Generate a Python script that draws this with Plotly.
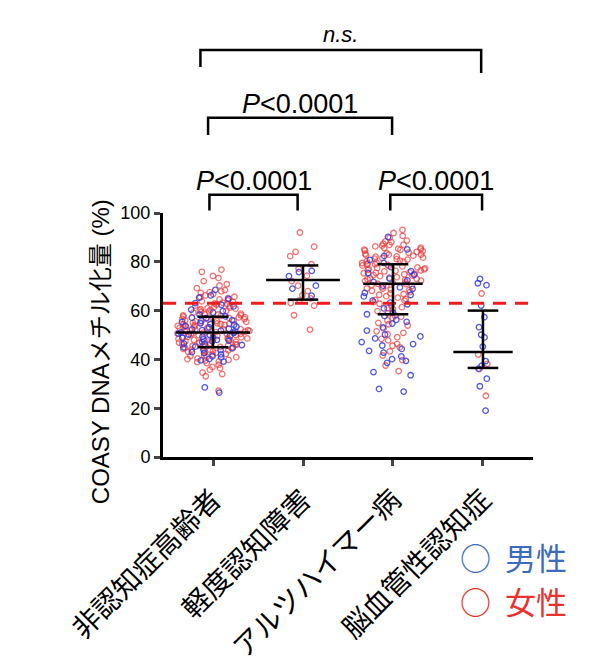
import plotly.graph_objects as go

# categories (x axis)
categories = ["非認知症高齢者", "軽度認知障害", "アルツハイマー病", "脳血管性認知症"]

# COASY DNA methylation (%) per group, male / female
male_vals = [
    [68.5, 66.2, 64.8, 63.1, 61.7, 60.4, 59.2, 58.3, 57.6, 56.9, 56.1, 55.4, 54.8, 54.2,
     53.7, 53.1, 52.6, 52.0, 51.5, 51.1, 50.6, 50.2, 49.7, 49.3, 48.8, 48.2, 47.7, 47.1,
     46.5, 45.9, 45.2, 44.6, 43.8, 43.0, 42.1, 41.3, 40.2, 39.1, 28.5, 26.4,
     65.3, 62.4, 59.8, 57.1, 55.8, 54.5, 53.4, 52.3, 51.8, 50.9, 50.0, 49.0, 48.0, 47.4,
     46.2, 44.9, 44.1, 42.6, 40.8, 39.6],
    [76.3, 75.8, 74.1, 70.2, 69.0, 66.1],
    [90.2, 85.1, 82.4, 79.6, 77.8, 76.2, 74.7, 73.1, 71.8, 70.2, 68.9, 67.3, 65.8, 64.1,
     62.6, 60.9, 59.3, 57.8, 56.2, 54.7, 53.1, 51.8, 50.2, 48.6, 47.1, 45.7, 44.3, 42.8,
     41.2, 40.1, 38.6, 34.8, 33.5, 27.9, 26.8,
     80.8, 75.4, 72.4, 69.5, 66.4, 63.3, 58.5, 55.4, 49.4, 46.3, 43.5, 39.4],
    [73.0, 71.2, 70.4, 62.1, 57.3, 53.2, 50.1, 49.0, 45.2, 39.3, 37.4, 36.2, 32.1, 29.0, 19.0],
]
female_vals = [
    [76.8, 75.9, 74.2, 72.1, 70.3, 69.2, 68.4, 67.9, 67.3, 66.8, 66.2, 65.7, 65.1, 64.6,
     64.2, 63.8, 63.3, 62.9, 62.5, 62.1, 61.8, 61.4, 61.0, 60.6, 60.3, 59.9, 59.5, 59.2,
     58.8, 58.5, 58.1, 57.8, 57.5, 57.2, 56.9, 56.6, 56.3, 56.0, 55.7, 55.4, 55.1, 54.8,
     54.5, 54.3, 54.0, 53.7, 53.5, 53.2, 52.9, 52.7, 52.4, 52.2, 51.9, 51.7, 51.4, 51.2,
     50.9, 50.7, 50.4, 50.2, 49.9, 49.7, 49.4, 49.2, 48.9, 48.6, 48.4, 48.1, 47.8, 47.5,
     47.2, 46.9, 46.6, 46.3, 46.0, 45.7, 45.4, 45.0, 44.7, 44.3, 43.9, 43.5, 43.1, 42.7,
     42.3, 41.9, 41.4, 40.9, 40.4, 39.8, 39.2, 38.5, 37.8, 36.9, 35.8, 34.6, 33.1, 27.2,
     58.4, 55.6, 53.0, 50.5, 48.0, 45.5, 60.8, 47.0, 52.0, 56.5, 44.0, 41.0,
     62.7, 61.2, 59.7, 58.0, 57.0, 55.9, 55.0, 54.1, 53.3, 52.5, 51.6, 50.8, 50.0, 49.1,
     48.3, 47.4, 46.7, 45.8, 45.1, 44.5, 43.7, 42.9, 41.6, 40.1, 38.9, 36.4, 34.0, 63.6,
     60.1, 57.3, 54.6, 51.0, 48.7, 46.2, 43.3, 39.5, 65.5, 67.6, 70.8, 73.4],
    [92.0, 86.2, 84.1, 82.3, 79.0, 77.2, 74.3, 72.1, 70.2, 68.0, 66.3, 65.0, 64.2, 63.1,
     62.0, 58.1, 52.2],
    [93.1, 91.8, 90.6, 89.9, 88.7, 88.1, 87.4, 86.9, 86.3, 85.8, 85.4, 85.0, 84.6, 84.1,
     83.7, 83.3, 82.9, 82.5, 82.1, 81.7, 81.3, 80.9, 80.5, 80.1, 79.7, 79.3, 78.9, 78.5,
     78.1, 77.7, 77.3, 76.9, 76.5, 76.1, 75.7, 75.3, 74.9, 74.5, 74.1, 73.7, 73.3, 72.9,
     72.5, 72.1, 71.7, 71.3, 70.9, 70.5, 70.1, 69.6, 69.1, 68.6, 68.1, 67.6, 67.1, 66.5,
     65.9, 65.3, 64.7, 64.1, 63.5, 62.8, 62.1, 61.4, 60.6, 59.8, 58.9, 58.0, 57.0, 56.0,
     55.0, 53.9, 52.7, 51.5, 50.3, 49.1, 47.8, 46.4, 44.9, 43.3, 41.6, 39.7, 37.5, 35.2,
     86.6, 84.9, 83.0, 81.1, 79.0, 77.0, 75.0, 73.0, 71.0, 69.0, 85.2, 82.2, 78.3, 76.3,
     74.3, 88.4, 87.0, 85.6, 84.4, 83.5, 82.7, 81.5, 80.3, 79.5, 78.7, 77.5, 76.7, 75.5,
     73.5, 72.3, 70.3, 68.4, 66.8, 64.4, 61.0, 57.5, 54.4, 50.9, 48.4, 45.6],
    [67.0, 42.0, 38.2, 36.0, 25.1],
]

# median and interquartile bars
medians = [51.0, 72.5, 71.0, 43.0]
upper_q = [57.5, 78.5, 79.0, 60.0]
lower_q = [45.0, 64.5, 58.5, 36.5]
cutoff = 63.0

# comparison brackets: (left group, right group, label)
brackets = [
    (0, 3, "<i>n.s.</i>"),
    (0, 2, "<i>P</i><0.0001"),
    (0, 1, "<i>P</i><0.0001"),
    (2, 3, "<i>P</i><0.0001"),
]

BLUE = "rgba(50,60,225,0.85)"
RED = "rgba(235,55,55,0.7)"
jitters = [1.0, 0.45, 1.0, 0.25]
box_w = [0.84, 0.82, 0.74, 0.5]
mean_half = [0.41, 0.41, 0.33, 0.33]
cap_half = 0.17

fig = go.Figure()

for i in range(len(categories)):
    for vals, col in ((female_vals[i], RED), (male_vals[i], BLUE)):
        fig.add_trace(go.Box(
            x=[i] * len(vals), y=vals,
            boxpoints="all", jitter=jitters[i], pointpos=0, width=box_w[i],
            fillcolor="rgba(0,0,0,0)", line=dict(width=0, color="rgba(0,0,0,0)"),
            marker=dict(symbol="circle-open", size=5.5, color=col, line=dict(width=1.3, color=col)),
            showlegend=False, hoverinfo="y",
        ))

# cutoff dashed line
fig.add_shape(type="line", xref="paper", yref="y", x0=0, x1=1, y0=cutoff, y1=cutoff,
              line=dict(color="#ee1c1c", width=3, dash="13px,9px"))

# median / IQR bars
for i in range(len(categories)):
    line = dict(color="black", width=2.5)
    fig.add_shape(type="line", x0=i - mean_half[i], x1=i + mean_half[i], y0=medians[i], y1=medians[i], line=line)
    fig.add_shape(type="line", x0=i, x1=i, y0=lower_q[i], y1=upper_q[i], line=line)
    fig.add_shape(type="line", x0=i - cap_half, x1=i + cap_half, y0=upper_q[i], y1=upper_q[i], line=line)
    fig.add_shape(type="line", x0=i - cap_half, x1=i + cap_half, y0=lower_q[i], y1=lower_q[i], line=line)

# brackets (paper y above the plot)
b_levels = [1.668, 1.39, 1.075, 1.075]
b_legs = [(1.598, 1.574), (1.32, 1.32), (1.01, 1.01), (1.01, 1.01)]
b_text_y = [1.73, 1.445, 1.13, 1.13]
b_off = [(-0.14, -0.02), (-0.055, -0.01), (-0.04, -0.06), (-0.03, -0.01)]
for k, (a, b, lab) in enumerate(brackets):
    xa, xb = a + b_off[k][0], b + b_off[k][1]
    fig.add_shape(type="path", xref="x", yref="paper",
                  path=f"M {xa} {b_legs[k][0]} L {xa} {b_levels[k]} L {xb} {b_levels[k]} L {xb} {b_legs[k][1]}",
                  line=dict(color="black", width=2.5))
    fig.add_annotation(x=(xa + xb) / 2, y=b_text_y[k], xref="x", yref="paper", text=lab,
                       showarrow=False, xanchor="center", yanchor="middle",
                       font=dict(size=27 if k else 22, color="black", family="Liberation Sans, Arial"))

# y title
fig.add_annotation(x=-0.17, y=0.43, xref="paper", yref="paper", text="COASY DNAメチル化量 (%)",
                   textangle=-90, showarrow=False, xanchor="center", yanchor="middle",
                   font=dict(size=24, color="black", family="Liberation Sans, Noto Sans CJK JP"))

# sex legend
fig.add_annotation(x=0.797, y=-0.406, xref="paper", yref="paper", text="○\u00a0\u00a0男性", showarrow=False,
                   xanchor="left", yanchor="middle",
                   font=dict(size=31, color="#3d6bbd", family="Noto Sans CJK JP"))
fig.add_annotation(x=0.797, y=-0.59, xref="paper", yref="paper", text="○\u00a0\u00a0女性", showarrow=False,
                   xanchor="left", yanchor="middle",
                   font=dict(size=31, color="#e8322e", family="Noto Sans CJK JP"))

fig.update_layout(
    width=598, height=670,
    margin=dict(l=163, r=65, t=213, b=213),
    paper_bgcolor="white", plot_bgcolor="white",
    boxmode="overlay",
    font=dict(family="Liberation Sans, Noto Sans CJK JP", color="black"),
    xaxis=dict(range=[-0.556, 3.556], tickvals=list(range(len(categories))), ticktext=categories,
               tickangle=-45, ticks="outside", ticklen=6, tickwidth=2.5, showline=True,
               linecolor="black", linewidth=3, showgrid=False, zeroline=False, automargin=False,
               ticklabelstandoff=6,
               tickfont=dict(size=28, family="Noto Sans CJK JP", color="black")),
    yaxis=dict(range=[0, 100], tickvals=[0, 20, 40, 60, 80, 100], ticks="outside", ticklen=6,
               tickwidth=2.5, showline=True, linecolor="black", linewidth=3, showgrid=False,
               zeroline=False, automargin=False, tickfont=dict(size=18, color="black")),
)

# drop the default 8px body margin so the figure sits at the window's corner
fig.write_html("out.html", config={"displayModeBar": False},
               post_script="document.body.style.margin='0';")
